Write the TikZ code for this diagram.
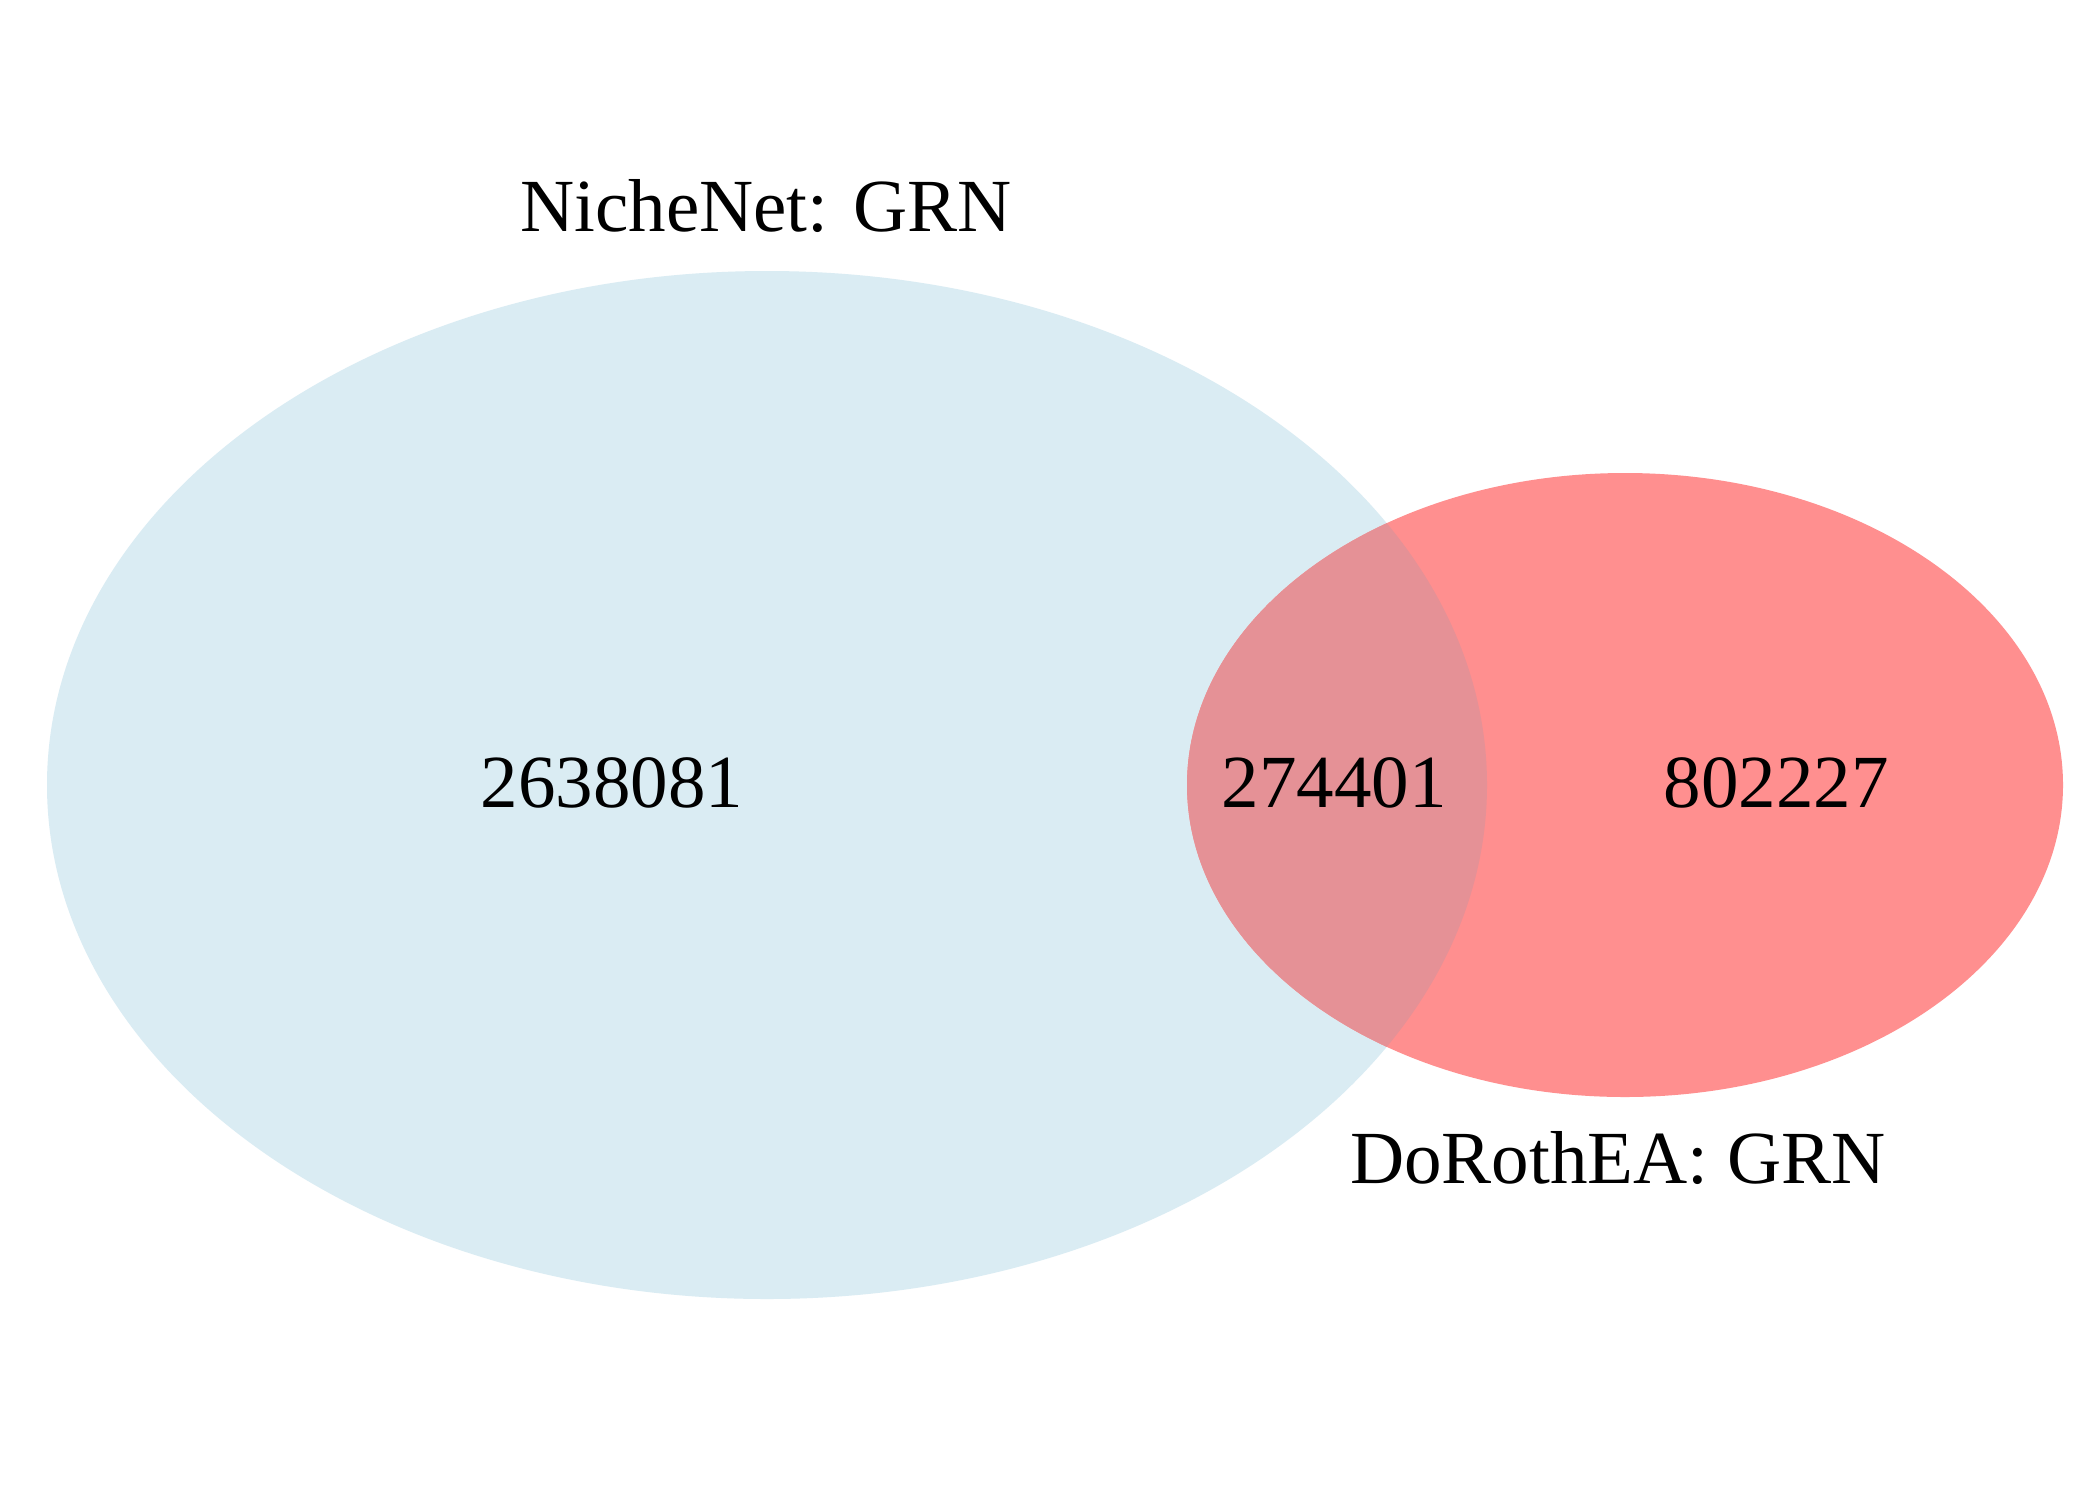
\documentclass[tikz,border=0pt]{standalone}
\usepackage{fontspec}
\setmainfont{Liberation Serif}
\definecolor{setA}{HTML}{DAECF3}
\definecolor{setB}{HTML}{FF8F8F}
\definecolor{setAB}{HTML}{E59196}
\tikzset{
  lbl/.style={anchor=base, inner sep=0pt, font=\fontsize{75}{80}\selectfont},
}
\begin{document}
\begin{tikzpicture}[x=1pt,y=-1pt]
\useasboundingbox (0,0) rectangle (2100,1500);
\fill[white] (0,0) rectangle (2100,1500);
\fill[setA] (767,785) ellipse [x radius=720, y radius=514];
\fill[setB] (1625,785) ellipse [x radius=438, y radius=312];
\begin{scope}
  \clip (767,785) ellipse [x radius=720, y radius=514];
  \fill[setAB] (1625,785) ellipse [x radius=438, y radius=312];
\end{scope}
\node[lbl] (nA) at (766,231) {NicheNet: GRN};
\node[lbl] (nB) at (1618,1183) {DoRothEA: GRN};
\node[lbl] (cA) at (612,807) {2638081};
\node[lbl] (cAB) at (1334,807) {274401};
\node[lbl] (cB) at (1776,807) {802227};
\end{tikzpicture}
\end{document}
